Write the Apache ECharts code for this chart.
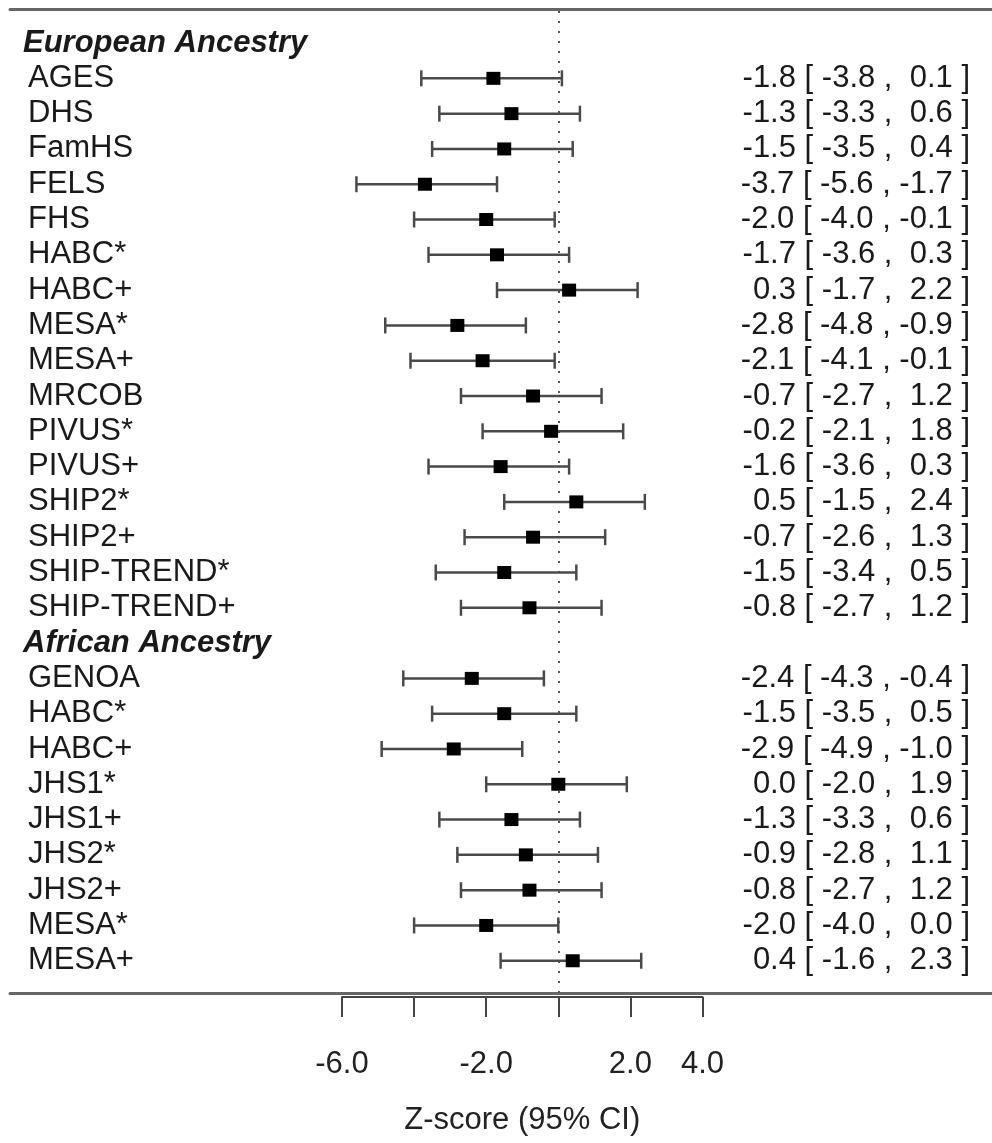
<!DOCTYPE html>
<html>
<head>
<meta charset="utf-8">
<script src="https://cdn.jsdelivr.net/npm/echarts@6/dist/echarts.min.js"></script>
<style>
html, body { margin: 0; padding: 0; background: #fff; }
#forestChart { width: 992px; height: 1143px; }
</style>
</head>
<body>
<div id="forestChart"></div>
<script>
// ---- data ----
const groupTitles = ['European Ancestry', 'African Ancestry'];

const eurStudies = ['AGES', 'DHS', 'FamHS', 'FELS', 'FHS', 'HABC*', 'HABC+', 'MESA*', 'MESA+',
  'MRCOB', 'PIVUS*', 'PIVUS+', 'SHIP2*', 'SHIP2+', 'SHIP-TREND*', 'SHIP-TREND+'];
const eurEst  = [-1.8, -1.3, -1.5, -3.7, -2.0, -1.7, 0.3, -2.8, -2.1, -0.7, -0.2, -1.6, 0.5, -0.7, -1.5, -0.8];
const eurLow  = [-3.8, -3.3, -3.5, -5.6, -4.0, -3.6, -1.7, -4.8, -4.1, -2.7, -2.1, -3.6, -1.5, -2.6, -3.4, -2.7];
const eurHigh = [0.1, 0.6, 0.4, -1.7, -0.1, 0.3, 2.2, -0.9, -0.1, 1.2, 1.8, 0.3, 2.4, 1.3, 0.5, 1.2];

const afrStudies = ['GENOA', 'HABC*', 'HABC+', 'JHS1*', 'JHS1+', 'JHS2*', 'JHS2+', 'MESA*', 'MESA+'];
const afrEst  = [-2.4, -1.5, -2.9, 0.0, -1.3, -0.9, -0.8, -2.0, 0.4];
const afrLow  = [-4.3, -3.5, -4.9, -2.0, -3.3, -2.8, -2.7, -4.0, -1.6];
const afrHigh = [-0.4, 0.5, -1.0, 1.9, 0.6, 1.1, 1.2, 0.0, 2.3];

const xTickLabels = [-6, -2, 2, 4];   // ticks without label: -4, 0
const axisTitle = 'Z-score (95% CI)';

// ---- layout ----
const W = 992, H = 1143;
const AX_LEFT = 342, AX_RIGHT = 702.5;     // pixel ends of the -6..4 axis
const X_MIN = -6, X_MAX = 4;
const ROW_TOP = 25.4, ROW_BOTTOM = 978.4;  // band area of the 27 rows
const RULE_TOP = 9, RULE_BOTTOM = 993;
const FONT = "'Liberation Sans', Arial, sans-serif";
const FS = 31;
const pxPerUnit = (AX_RIGHT - AX_LEFT) / (X_MAX - X_MIN);
const fullMin = X_MIN - (AX_LEFT - 10) / pxPerUnit;
const fullMax = X_MAX + (W - AX_RIGHT) / pxPerUnit;

// build rows
let rows = [];
let bars = [];
function addGroup(title, names, est, lo, hi) {
  rows.push({ label: title, header: true });
  names.forEach((n, i) => {
    bars.push([rows.length, est[i], lo[i], hi[i]]);
    rows.push({ label: n, header: false, est: est[i], lo: lo[i], hi: hi[i] });
  });
}
addGroup(groupTitles[0], eurStudies, eurEst, eurLow, eurHigh);
addGroup(groupTitles[1], afrStudies, afrEst, afrLow, afrHigh);

function padNum(v) {
  return v < 0 ? v.toFixed(1) : ' ' + v.toFixed(1);
}
function ciText(r) {
  return r.est.toFixed(1) + ' [ ' + r.lo.toFixed(1) + ' , ' + padNum(r.hi) + ' ]';
}

const chart = echarts.init(document.getElementById('forestChart'));

const ruleAxis = {
  gridIndex: 1, type: 'value', min: fullMin, max: fullMax,
  axisLine: { show: true, onZero: false, lineStyle: { color: '#666', width: 3 } },
  axisTick: { show: false }, axisLabel: { show: false }, splitLine: { show: false }
};

const option = {
  animation: false,
  backgroundColor: '#fff',
  textStyle: { fontFamily: FONT },
  grid: [
    { left: AX_LEFT, right: W - AX_RIGHT, top: ROW_TOP, bottom: H - ROW_BOTTOM },
    { left: 10, right: 0, top: RULE_TOP, bottom: H - RULE_BOTTOM }
  ],
  xAxis: [
    {
      gridIndex: 0, type: 'value', min: X_MIN, max: X_MAX, interval: 2,
      position: 'bottom', offset: 997 - ROW_BOTTOM,
      axisLine: { show: true, onZero: false, lineStyle: { color: '#444', width: 2 } },
      axisTick: { show: true, inside: false, length: 20, lineStyle: { color: '#444', width: 2 } },
      axisLabel: {
        margin: 52, color: '#222', fontSize: FS, fontFamily: FONT,
        formatter: v => xTickLabels.includes(v) ? v.toFixed(1) : ''
      },
      splitLine: { show: false },
      name: axisTitle, nameLocation: 'middle', nameGap: 108,
      nameTextStyle: { color: '#222', fontSize: FS, fontFamily: FONT }
    },
    Object.assign({ position: 'top' }, ruleAxis),
    Object.assign({ position: 'bottom' }, ruleAxis)
  ],
  yAxis: [
    {
      gridIndex: 0, type: 'category', inverse: true,
      data: rows.map(r => r.label),
      axisLine: { show: false }, axisTick: { show: false }, splitLine: { show: false },
      axisLabel: {
        interval: 0, align: 'left', margin: AX_LEFT - 23,
        color: '#1a1a1a', fontSize: FS, fontFamily: FONT,
        formatter: (v, i) => rows[i].header ? '{h|' + v + '}' : '{n|' + v + '}',
        rich: {
          h: { fontSize: FS, fontWeight: 'bold', fontStyle: 'italic', color: '#1a1a1a', fontFamily: FONT },
          n: { fontSize: FS, color: '#1a1a1a', fontFamily: FONT, padding: [0, 0, 0, 5] }
        }
      }
    },
    {
      gridIndex: 0, type: 'category', inverse: true, position: 'right',
      data: rows.map(r => r.label),
      axisLine: { show: false }, axisTick: { show: false }, splitLine: { show: false },
      axisLabel: {
        interval: 0, align: 'right', margin: 970 - AX_RIGHT,
        color: '#1a1a1a', fontSize: FS, fontFamily: FONT,
        formatter: (v, i) => rows[i].header ? '' : ciText(rows[i])
      }
    },
    { gridIndex: 1, type: 'value', min: 0, max: 1, show: false }
  ],
  series: [
    {
      // dotted reference line at zero, spanning between the two rules
      type: 'line', xAxisIndex: 1, yAxisIndex: 2, data: [],
      markLine: {
        silent: true, symbol: 'none', label: { show: false },
        lineStyle: { type: [2, 8], color: '#555', width: 2 },
        data: [{ xAxis: 0 }]
      }
    },
    {
      type: 'custom', xAxisIndex: 0, yAxisIndex: 0, z: 5,
      data: bars,
      encode: { x: [1, 2, 3], y: 0 },
      renderItem: function (params, api) {
        const row = api.value(0);
        const pLo = api.coord([api.value(2), row]);
        const pHi = api.coord([api.value(3), row]);
        const pEst = api.coord([api.value(1), row]);
        const capH = 8;
        const st = { stroke: '#4a4a4a', lineWidth: 2.5 };
        return {
          type: 'group',
          children: [
            { type: 'line', shape: { x1: pLo[0], y1: pLo[1], x2: pHi[0], y2: pHi[1] }, style: st },
            { type: 'line', shape: { x1: pLo[0], y1: pLo[1] - capH, x2: pLo[0], y2: pLo[1] + capH }, style: st },
            { type: 'line', shape: { x1: pHi[0], y1: pHi[1] - capH, x2: pHi[0], y2: pHi[1] + capH }, style: st },
            { type: 'rect', shape: { x: pEst[0] - 7, y: pEst[1] - 6.5, width: 14, height: 13 }, style: { fill: '#000' } }
          ]
        };
      }
    }
  ]
};

chart.setOption(option);
</script>
</body>
</html>
